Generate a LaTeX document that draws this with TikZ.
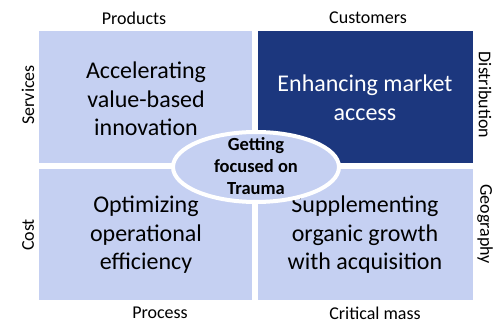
\documentclass[tikz,border=0pt]{standalone}
\usepackage{fontspec}
\setmainfont{Carlito}
\usetikzlibrary{shapes.geometric}
\definecolor{lightq}{HTML}{C5D0F2}
\definecolor{darkq}{HTML}{1C377E}
\tikzset{
  quad/.style={fill=lightq, draw=none},
  quadtext/.style={align=center, font=\fontsize{24}{28.5}\selectfont, text=black},
  axis/.style={font=\fontsize{18}{20}\selectfont, text=black, inner sep=1pt},
  hub/.style={ellipse, fill=lightq, draw=white, line width=4pt, minimum width=166pt, minimum height=70pt, inner sep=0pt},
  hubtext/.style={align=center, font=\bfseries\fontsize{18.5}{22}\selectfont, inner sep=0pt}
}
\begin{document}
\begin{tikzpicture}[x=1pt,y=-1pt]
\useasboundingbox[fill=white] (0,0) rectangle (499,323);
\fill[quad] (39,31) rectangle (252,163);
\fill[darkq] (258,31) rectangle (473,163);
\fill[quad] (39,169) rectangle (252,300);
\fill[quad] (258,169) rectangle (473,300);
\node[quadtext] (tl) at (146,99) {Accelerating\\value-based\\innovation};
\node[quadtext, text=white] (tr) at (365,98) {Enhancing market\\access};
\node[quadtext] (bl) at (146,235) {Optimizing\\operational\\efficiency};
\node[quadtext] (br) at (365,235) {Supplementing\\organic growth\\with acquisition};
\node[hub] (hub) at (256,167) {};
\node[hubtext] (hubt) at (256,166) {Getting\\focused on\\Trauma};
\node[axis] (products) at (134,18) {Products};
\node[axis] (customers) at (368,18) {Customers};
\node[axis] (process) at (160,313) {Process};
\node[axis] (critical) at (375,313) {Critical mass};
\node[axis, rotate=90] (services) at (28,95) {Services};
\node[axis, rotate=90] (cost) at (28,235) {Cost};
\node[axis, rotate=-90] (distribution) at (485,95) {Distribution};
\node[axis, rotate=-90] (geography) at (485,224) {Geography};
\end{tikzpicture}
\end{document}
